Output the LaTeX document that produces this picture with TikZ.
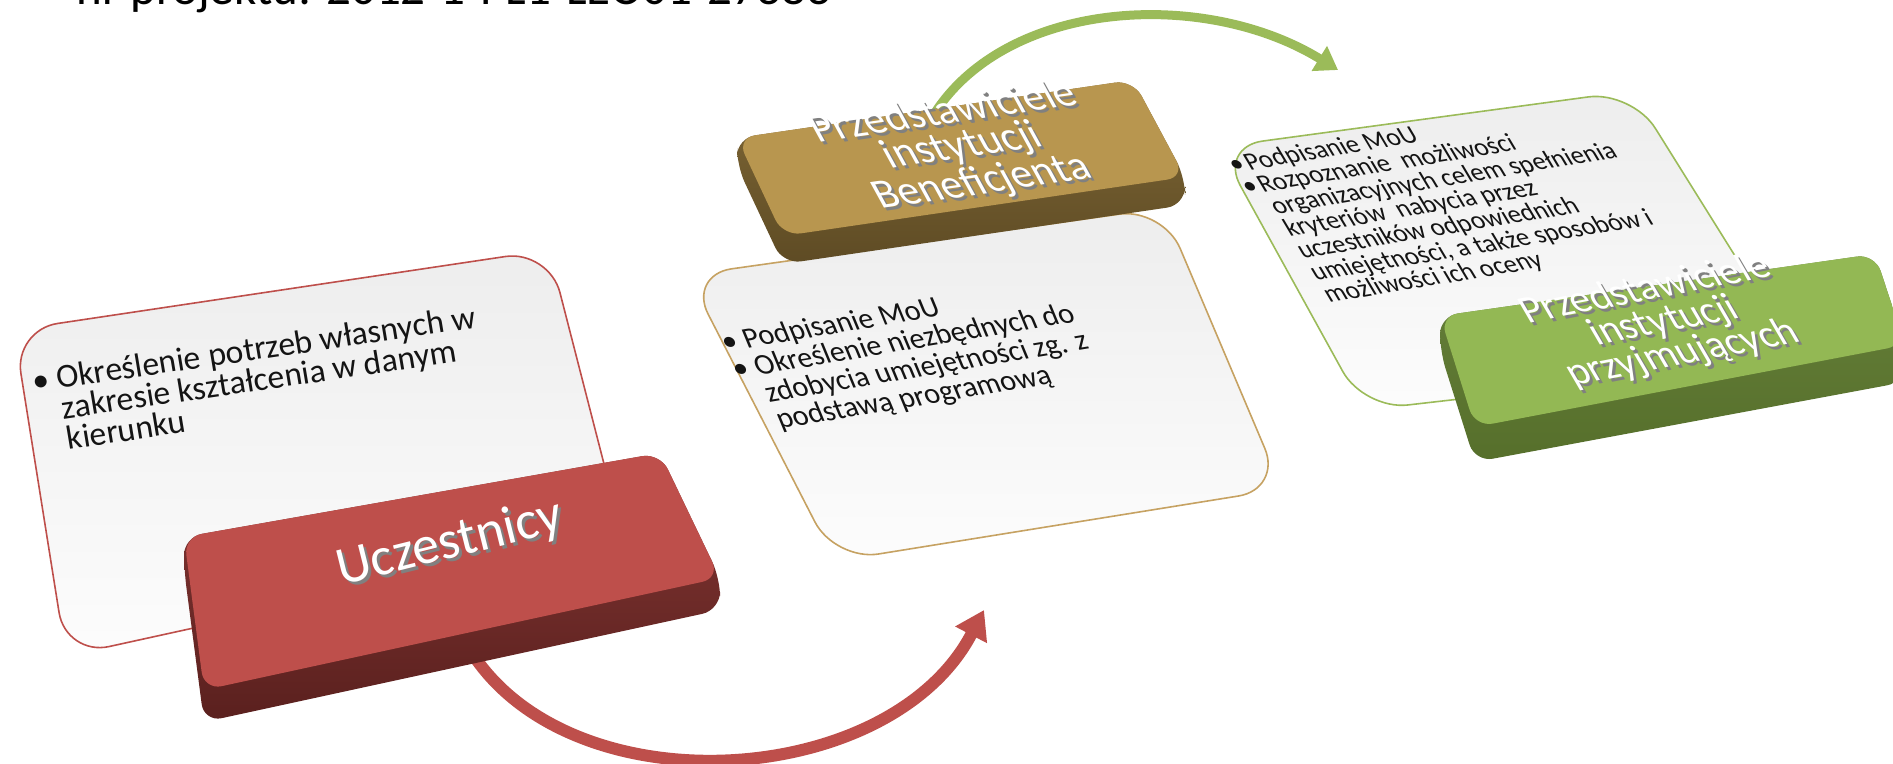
\documentclass[tikz,border=0pt]{standalone}
\usepackage{fontspec}
\setmainfont{Carlito}
\usetikzlibrary{arrows.meta,calc}
\definecolor{redk}{HTML}{BE4F4B}
\definecolor{redside}{HTML}{5A201E}
\definecolor{goldk}{HTML}{B8964F}
\definecolor{goldside}{HTML}{5E4B24}
\definecolor{greenk}{HTML}{93B854}
\definecolor{greenside}{HTML}{566F2B}
\definecolor{goldline}{HTML}{C6A262}
\definecolor{greenline}{HTML}{9BBB59}
\begin{document}
\begin{tikzpicture}[x=0.5pt,y=-0.5pt,
  panel/.style={line width=0.8pt, rounded corners=22pt, top color=black!7, bottom color=black!1},
  body/.style={align=left, inner sep=0pt, text=black!92, transform shape},
  keyface/.style={rounded corners=9pt},
  keytxt/.style={align=center, inner sep=0pt, transform shape, text=white},
  keyshd/.style={align=center, inner sep=0pt, transform shape, text=black!50},
]
\useasboundingbox (0,0) rectangle (1893,764);
\clip (0,0) rectangle (1893,764);

% title (cut off at top)
\node[anchor=base west, inner sep=0pt, font=\fontsize{24.5}{28}\selectfont] (title) at (76,5) {nr projektu: 2012-1-PL1-LEO01-27383};

% ---------- panel 1 ----------
\draw[panel, draw=redk] ($(14,330)!0.5!(549,250)$) -- (549,250) -- (622,534) -- (66,656) -- (14,330) -- cycle;
\node[body, anchor=north west, rotate=8.3, xslant=-0.02, font=\fontsize{16.8}{13.2}\selectfont] (t1) at (30,369)
 {\makebox[0.74em][l]{\textbullet}Określenie potrzeb własnych w\\\hspace*{0.74em}zakresie kształcenia w danym\\\hspace*{0.74em}kierunku};

% red arrow
\coordinate (ra) at (470,650);
\coordinate (rb) at (984,610);
\draw[redk, line width=6pt, -{Triangle[width=17pt,length=14pt]}] (ra) .. controls (570,810) and (890,790) .. (rb);

% red key
\shade[top color=redk!70!black, bottom color=redside, rounded corners=9pt]
  ($(184,537)!0.5!(660,453)$) -- (660,453) -- (720,578) -- (720,610) -- (204,722) -- (184,569) -- (184,537) -- cycle;
\fill[redk, keyface] ($(184,537)!0.5!(660,453)$) -- (660,453) -- (720,578) -- (204,690) -- (184,537) -- cycle;
\node[keyshd, rotate=14, font=\fontsize{27}{30}\selectfont] (k1s) at (453,547) {Uczestnicy};
\node[keytxt, rotate=14, font=\fontsize{27}{30}\selectfont] (k1) at (450,544) {Uczestnicy};

% ---------- panel 2 ----------
\draw[panel, draw=goldline] ($(688,275)!0.5!(1163,208)$) -- (1163,208) -- (1282,489) -- (835,561) -- (688,275) -- cycle;
\node[body, anchor=north west, rotate=9.5, xslant=-0.23, font=\fontsize{14.8}{14.2}\selectfont] (t2) at (717,332)
 {\makebox[0.74em][l]{\textbullet}Podpisanie MoU\\\makebox[0.74em][l]{\textbullet}Określenie niezbędnych do\\\hspace*{0.74em}zdobycia umiejętności zg. z\\\hspace*{0.74em}podstawą programową};

% green arrow
\coordinate (ga) at (925,130);
\coordinate (gb) at (1338,70);
\draw[greenline, line width=4.5pt, -{Triangle[width=14pt,length=11pt]}] (ga) .. controls (990,0) and (1200,-15) .. (gb);

% gold key
\shade[top color=goldk!70!black, bottom color=goldside, rounded corners=9pt]
  ($(737,138)!0.5!(1133,80)$) -- (1133,80) -- (1185,177) -- (1185,205) -- (783,264) -- (737,166) -- (737,138) -- cycle;
\fill[goldk, keyface] ($(737,138)!0.5!(1133,80)$) -- (1133,80) -- (1185,177) -- (783,236) -- (737,138) -- cycle;
\node[keyshd, rotate=8.2, xslant=-0.376, font=\fontsize{21.2}{18}\selectfont] (k2s) at (966,151) {Przedstawiciele\\instytucji\\Beneficjenta};
\node[keytxt, rotate=8.2, xslant=-0.376, font=\fontsize{21.2}{18}\selectfont] (k2) at (963,148) {Przedstawiciele\\instytucji\\Beneficjenta};

% ---------- panel 3 ----------
\draw[panel, draw=greenline] ($(1219,147)!0.5!(1632,91)$) -- (1632,91) -- (1800,360) -- (1364,410) -- (1219,147) -- cycle;
\node[body, anchor=north west, rotate=9.5, xslant=-0.39, font=\fontsize{12.9}{12}\selectfont] (t3) at (1224,156)
 {\makebox[0.62em][l]{\textbullet}Podpisanie MoU\\\makebox[0.62em][l]{\textbullet}Rozpoznanie~ możliwości\\\hspace*{0.62em}organizacyjnych celem spełnienia\\\hspace*{0.62em}kryteriów~ nabycia przez\\\hspace*{0.62em}uczestników odpowiednich\\\hspace*{0.62em}umiejętności, a także sposobów i\\\hspace*{0.62em}możliwości ich oceny};

% green key
\shade[top color=greenk!70!black, bottom color=greenside, rounded corners=9pt]
  ($(1440,316)!0.5!(1875,254)$) -- (1875,254) -- (1905,345) -- (1905,382) -- (1475,462) -- (1440,351) -- (1440,316) -- cycle;
\fill[greenk, keyface] ($(1440,316)!0.5!(1875,254)$) -- (1875,254) -- (1905,345) -- (1475,427) -- (1440,316) -- cycle;
\node[keyshd, rotate=11, xslant=-0.35, font=\fontsize{20}{17.5}\selectfont] (k3s) at (1667,325) {Przedstawiciele\\instytucji\\przyjmujących};
\node[keytxt, rotate=11, xslant=-0.35, font=\fontsize{20}{17.5}\selectfont] (k3) at (1664,322) {Przedstawiciele\\instytucji\\przyjmujących};
\end{tikzpicture}
\end{document}
